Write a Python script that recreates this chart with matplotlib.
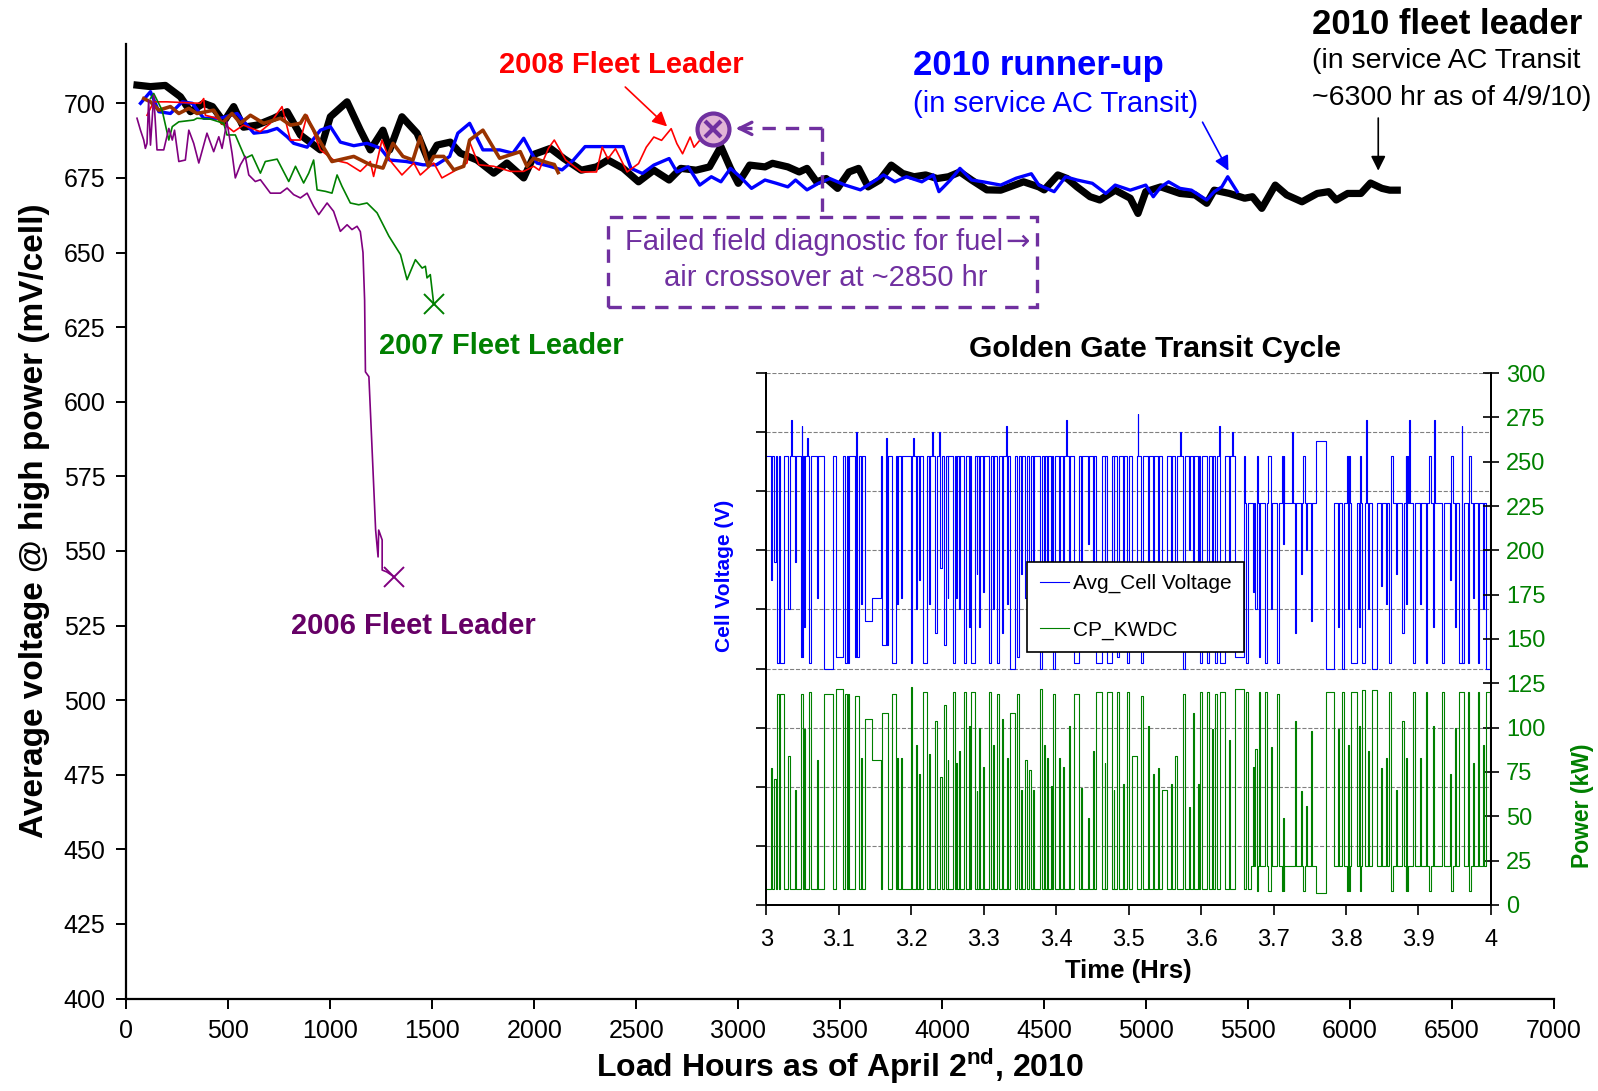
import numpy as np
import matplotlib
matplotlib.use('Agg')
import matplotlib.pyplot as plt
from matplotlib.patches import Rectangle

plt.rcParams['font.family'] = ['Liberation Sans', 'DejaVu Sans']
plt.rcParams['mathtext.fontset'] = 'custom'
plt.rcParams['mathtext.rm'] = 'Liberation Sans'
plt.rcParams['mathtext.bf'] = 'Liberation Sans:bold'

# ---- main chart: average cell voltage vs load hours ----
lead2010_hours = [52, 118, 191, 265, 314, 379, 422, 477, 526, 574, 640, 722, 788, 853, 951, 1000, 1082, 1147,
                  1196, 1258, 1291, 1351, 1425, 1480, 1523, 1588, 1637, 1719, 1801, 1866, 1948, 2002, 2079, 2145,
                  2230, 2305, 2361, 2436, 2511, 2586, 2661, 2718, 2793, 2859, 2915, 2962, 3000, 3056, 3131, 3168,
                  3243, 3299, 3337, 3384, 3431, 3487, 3543, 3590, 3637, 3694, 3750, 3806, 3862, 3919, 3975, 4031,
                  4087, 4144, 4219, 4287, 4331, 4399, 4474, 4500, 4567, 4613, 4661, 4725, 4773, 4848, 4922, 4960,
                  4998, 5072, 5166, 5240, 5297, 5334, 5408, 5483, 5521, 5567, 5633, 5689, 5764, 5839, 5895, 5932,
                  5988, 6053, 6100, 6156, 6194, 6231]
lead2010_mv = [706.1, 705.6, 706, 702.2, 697.2, 700, 698.9, 693.8, 698.9, 692, 692.7, 695, 697.2, 689.4, 684.4,
               695.5, 700.5, 691, 684.4, 691, 684.4, 695.5, 690, 681, 686, 687, 683.3, 681, 676.6, 680, 675, 683,
               684.9, 681.5, 677.6, 678.7, 681, 678.2, 673.7, 677.6, 674.3, 678.2, 677.6, 678.7, 685.5, 678.2,
               673.2, 679.3, 678.7, 679.9, 678.7, 677, 678.2, 673.7, 674.8, 671.5, 677, 678.2, 672, 674.3, 679.3,
               676.5, 675.4, 676, 674.8, 675.4, 677, 674.3, 671, 670.9, 672, 673.7, 672, 671, 676, 674.8, 672,
               668.7, 667.6, 670.9, 668.2, 663.1, 670.4, 672, 669.8, 669.3, 666.5, 670.9, 669.8, 668.2, 668.7,
               664.8, 672.6, 669.3, 667, 669.8, 670.4, 667.6, 669.8, 669.8, 673.3, 671.5, 670.9, 670.9]

runner2010_hours = [69, 118, 159, 216, 274, 323, 379, 461, 543, 625, 690, 739, 788, 820, 886, 951, 1000, 1049,
                    1115, 1180, 1245, 1291, 1372, 1454, 1520, 1585, 1625, 1683, 1748, 1830, 1895, 1948, 2013, 2070,
                    2136, 2192, 2249, 2436, 2474, 2530, 2586, 2661, 2699, 2755, 2811, 2868, 2915, 2962, 3009, 3065,
                    3131, 3187, 3243, 3281, 3337, 3393, 3449, 3524, 3599, 3675, 3712, 3768, 3825, 3900, 3956, 3984,
                    4040, 4087, 4144, 4200, 4287, 4362, 4437, 4474, 4549, 4605, 4661, 4736, 4802, 4848, 4922, 4998,
                    5035, 5072, 5110, 5166, 5222, 5297, 5334, 5371, 5400, 5446]
runner2010_mv = [700, 703.9, 697.2, 696.6, 700.5, 700, 695, 695, 696.6, 690, 690.5, 691.6, 688.8, 686.6, 685.3,
                 691, 692.2, 687, 685.8, 686.6, 685, 681, 680.5, 679.4, 679.4, 682.2, 690, 693.3, 684.4, 684.4,
                 683.3, 688.3, 680, 679, 677.7, 681, 685.5, 685.5, 678.2, 676.5, 679.3, 681.5, 677, 678.7, 672.6,
                 675.4, 673.7, 678.2, 675.4, 671.5, 674.3, 673.2, 672, 674.3, 671, 673.2, 674.8, 672.6, 671, 674.3,
                 676, 673.7, 675.4, 673.7, 676, 670.4, 674.3, 678.2, 674.3, 673.7, 672.6, 674.9, 676.4, 672.6,
                 670.4, 675.4, 674.3, 673.2, 669.8, 672.6, 670.9, 672.6, 668.7, 672, 673.7, 671.5, 670.9, 667.6,
                 670.4, 672, 675.4, 670.4]

lead2008_hours = [101, 134, 199, 363, 379, 387, 444, 526, 574, 656, 706, 763, 804, 853, 886, 951, 1016, 1082,
                  1147, 1196, 1212, 1253, 1291, 1351, 1409, 1441, 1507, 1547, 1605, 1670, 1683, 1728, 1801, 1883,
                  1948, 1997, 2024, 2070, 2098, 2154, 2230, 2305, 2333, 2361, 2398, 2455, 2511, 2549, 2586, 2624,
                  2671, 2699, 2727, 2764, 2783, 2811]
lead2008_mv = [696, 700.5, 700.5, 700, 701.6, 696, 695, 690.5, 692.7, 690.5, 693.3, 698.9, 687.7, 687.7, 696,
               684.4, 681, 680, 677.2, 680.5, 675.5, 687.7, 681, 676, 680, 676, 680, 675, 677.2, 680, 687, 679.4,
               678.9, 677.2, 677.2, 678.9, 677.6, 685, 687.7, 681, 677, 677, 685.3, 681.4, 684.8, 677, 679.8,
               685.3, 688.7, 687.6, 691.5, 686.5, 683.1, 688.7, 685.3, 687.6]

brown_hours = [85, 118, 159, 216, 257, 306, 346, 428, 469, 518, 559, 608, 673, 755, 804, 853, 877, 951, 1008,
               1115, 1196, 1258, 1307, 1356, 1405, 1441, 1480, 1507, 1556, 1605, 1654, 1683, 1748, 1830, 1931,
               1964, 1997, 2070, 2098, 2117]
brown_mv = [701.6, 700.5, 697.7, 698.9, 696.6, 698.3, 696.6, 697.7, 693.3, 696.6, 693.3, 696, 693.3, 695, 692.7,
            693.3, 696, 687, 680.5, 682.2, 679.4, 678.3, 686.6, 682.2, 681, 688.8, 678.9, 682.2, 682.2, 677.7,
            678.9, 687.7, 691, 681.6, 683.8, 678.9, 681.6, 680, 679.5, 676.8]

lead2007_hours = [118, 134, 175, 208, 225, 257, 330, 346, 412, 477, 493, 534, 583, 616, 657, 681, 739, 796, 829,
                  869, 894, 918, 935, 976, 1008, 1033, 1057, 1098, 1139, 1180, 1229, 1287, 1344, 1376, 1417, 1450,
                  1466, 1474, 1490, 1507]
lead2007_mv = [701.6, 703.3, 697.7, 687.7, 692.2, 693.8, 694.4, 695, 694.7, 693.3, 689.4, 689.4, 681.6, 682.7,
               676.6, 680.5, 681.3, 673.8, 678.9, 673.3, 676.6, 681, 671, 670.5, 669.9, 676, 672.2, 666.6, 666,
               666.6, 663.3, 655.5, 649.3, 640.9, 647.6, 644.8, 645.4, 641.5, 642.6, 632.6]

lead2006_hours = [52, 69, 85, 93, 101, 109, 118, 134, 150, 183, 208, 225, 236, 257, 289, 306, 330, 355, 395, 428,
                  453, 469, 493, 518, 534, 559, 583, 600, 632, 657, 706, 755, 788, 820, 853, 886, 918, 943, 984,
                  1016, 1049, 1082, 1106, 1131, 1147, 1160, 1168, 1172, 1189, 1222, 1234, 1237, 1254, 1254, 1276,
                  1311]
lead2006_mv = [695, 691, 687.7, 684.9, 686.6, 701, 686, 702.7, 684.4, 684.4, 691.6, 687.7, 691, 680.5, 681, 691,
               686.6, 680, 690, 683.8, 688.8, 684.9, 693.8, 683.3, 675, 679.4, 682.2, 676, 673.8, 674.4, 669.9,
               669.9, 671.6, 669.4, 668.3, 669.9, 665.5, 662.7, 666.6, 663.8, 657.1, 659.3, 657.7, 658.8, 657,
               650, 634, 610, 608.4, 557, 548, 557, 553.7, 543.6, 543, 541.4]

failure_hours = 2877
failure_mv = 691.3

# ---- inset: Golden Gate transit cycle, 3 to 4 hours ----
pulse_start = [3.0065, 3.0110, 3.0152, 3.0195, 3.0304, 3.0396, 3.0475, 3.0590, 3.0696, 3.0802, 3.0968, 3.1088,
               3.1226, 3.1364, 3.1465, 3.1604, 3.1733, 3.1853, 3.1995, 3.2157, 3.2332, 3.2401, 3.2456, 3.2571,
               3.2654, 3.2733, 3.2825, 3.2931, 3.3069, 3.3180, 3.3253, 3.3364, 3.3461, 3.3576, 3.3631, 3.3783,
               3.3876, 3.3963, 3.4037, 3.4253, 3.4553, 3.4700, 3.4839, 3.4977, 3.5046, 3.5175, 3.5267, 3.5406,
               3.5461, 3.5645, 3.5747, 3.5885, 3.5991, 3.6083, 3.6198, 3.6267, 3.6465, 3.6622, 3.6751, 3.6797,
               3.6889, 3.7046, 3.7290, 3.7512, 3.7719, 3.7949, 3.8065, 3.8226, 3.8364, 3.8479, 3.8594, 3.8779,
               3.8926, 3.9101, 3.9323, 3.9562, 3.9677, 3.9816, 3.9931]
pulse_end = [3.0083, 3.0130, 3.0175, 3.0249, 3.0323, 3.0410, 3.0502, 3.0613, 3.0714, 3.0922, 3.1060, 3.1115,
             3.1281, 3.1465, 3.1580, 3.1687, 3.1788, 3.1871, 3.2018, 3.2212, 3.2350, 3.2419, 3.2479, 3.2599,
             3.2673, 3.2756, 3.2880, 3.2949, 3.3097, 3.3207, 3.3272, 3.3429, 3.3484, 3.3594, 3.3650, 3.3806,
             3.3894, 3.3991, 3.4055, 3.4309, 3.4636, 3.4774, 3.4866, 3.5005, 3.5110, 3.5194, 3.5286, 3.5424,
             3.5525, 3.5664, 3.5774, 3.5903, 3.6018, 3.6106, 3.6226, 3.6336, 3.6590, 3.6645, 3.6770, 3.6820,
             3.6912, 3.7074, 3.7309, 3.7530, 3.7830, 3.7972, 3.8152, 3.8258, 3.8429, 3.8498, 3.8618, 3.8797,
             3.8954, 3.9120, 3.9350, 3.9627, 3.9700, 3.9834, 3.9986]
pulse_kw = [77, 71, 119, 119, 84, 65, 119, 120, 82, 119, 122, 119, 118, 105, 82, 108, 119, 83, 123, 120, 104, 72,
            113, 120, 87, 120, 120, 100, 120, 119, 105, 108, 119, 82, 76, 122, 83, 119, 83, 119, 120, 120, 120,
            120, 84, 118, 101, 77, 65, 84, 119, 108, 120, 120, 119, 120, 122, 120, 88, 120, 120, 119, 104, 98,
            120, 120, 120, 121, 121, 77, 120, 104, 120, 120, 120, 120, 120, 120, 120]
pulse_v = [0.55, 0.58, 0.41, 0.41, 0.50, 0.58, 0.42, 0.41, 0.52, 0.40, 0.42, 0.41, 0.42, 0.48, 0.52, 0.44, 0.41,
           0.52, 0.41, 0.41, 0.46, 0.57, 0.44, 0.41, 0.50, 0.41, 0.41, 0.47, 0.41, 0.41, 0.46, 0.40, 0.42, 0.52,
           0.55, 0.40, 0.51, 0.40, 0.52, 0.41, 0.41, 0.41, 0.42, 0.41, 0.50, 0.41, 0.47, 0.55, 0.58, 0.52, 0.40,
           0.45, 0.41, 0.41, 0.41, 0.41, 0.42, 0.41, 0.50, 0.42, 0.41, 0.41, 0.46, 0.48, 0.40, 0.40, 0.41, 0.41,
           0.40, 0.54, 0.41, 0.46, 0.41, 0.41, 0.41, 0.41, 0.41, 0.41, 0.40]

spike_t = [3.0520, 3.1134, 3.1304, 3.1811, 3.2065, 3.2110, 3.2249, 3.2502, 3.2617, 3.2793, 3.2903, 3.2986,
           3.3124, 3.3318, 3.3516, 3.3677, 3.3839, 3.3930, 3.4092, 3.4184, 3.4346, 3.4438, 3.4507, 3.4668,
           3.4793, 3.4922, 3.5332, 3.5585, 3.5839, 3.5954, 3.6152, 3.6382, 3.6714, 3.6968, 3.7129, 3.7382,
           3.7452, 3.7889, 3.8028, 3.8180, 3.8304, 3.8548, 3.8696, 3.8834, 3.9018, 3.9203, 3.9433, 3.9502,
           3.9756, 3.9894]
spike_kw = [99, 119, 83, 83, 90, 74, 85, 82, 80, 101, 64, 78, 90, 83, 65, 65, 90, 67, 78, 101, 66, 49, 87, 80,
            65, 68, 74, 68, 55, 68, 99, 93, 78, 89, 49, 64, 56, 99, 90, 101, 87, 83, 65, 83, 83, 101, 74, 100, 80,
            90]
spike_v = [0.47, 0.41, 0.51, 0.51, 0.50, 0.55, 0.51, 0.52, 0.52, 0.47, 0.56, 0.53, 0.50, 0.51, 0.56, 0.56,
           0.50, 0.56, 0.53, 0.47, 0.56, 0.61, 0.50, 0.52, 0.56, 0.55, 0.55, 0.55, 0.60, 0.55, 0.47, 0.49, 0.53,
           0.50, 0.61, 0.56, 0.60, 0.47, 0.50, 0.47, 0.50, 0.51, 0.56, 0.51, 0.51, 0.47, 0.55, 0.47, 0.52, 0.50]

# short idle stretches after 3.67 h (power back to ~8 kW, voltage back up)
idle_start = [3.6760, 3.6930, 3.7120, 3.7400, 3.8020, 3.8180, 3.8620, 3.8830, 3.9140, 3.9440, 3.9700]
idle_end = [3.6790, 3.6960, 3.7150, 3.7430, 3.8050, 3.8210, 3.8650, 3.8860, 3.9170, 3.9470, 3.9730]
idle_kw = [8, 8, 8, 8, 8, 8, 8, 8, 8, 8, 8]
idle_v = [0.76, 0.76, 0.76, 0.76, 0.76, 0.76, 0.76, 0.76, 0.76, 0.76, 0.76]

voltage_peak_t = [3.0346, 3.0488, 3.0567, 3.1235, 3.1650, 3.2028, 3.2286, 3.2387, 3.3309, 3.4138, 3.5124,
                  3.5710, 3.6244, 3.6429, 3.7253, 3.8272, 3.8871, 3.9212, 3.9594]
voltage_peak_v = [0.82, 0.81, 0.79, 0.80, 0.79, 0.79, 0.80, 0.80, 0.81, 0.82, 0.83, 0.80, 0.81, 0.80, 0.80,
                  0.82, 0.82, 0.82, 0.81]

power_base_t = [3.0, 3.669, 3.759, 3.772]
power_base_kw = [9, 22, 7, 22]
voltage_base_t = [3.0, 3.660, 3.759, 3.772]
voltage_base_v = [0.76, 0.68, 0.785, 0.68]

spike_width = 0.0012


def step_series(base_t, base_y, starts, ends, levels):
    # later entries in starts/ends/levels win where they overlap
    times = sorted(set([3.0, 4.0] + list(base_t) + list(starts) + list(ends)))
    values = []
    for t in times:
        y = base_y[np.searchsorted(base_t, t, side='right') - 1]
        for a, b, v in zip(starts, ends, levels):
            if a <= t < b:
                y = v
        values.append(y)
    return times, values


spike_end = [t + spike_width for t in spike_t]
peak_end = [t + spike_width for t in voltage_peak_t]
power_t, power_kw = step_series(power_base_t, power_base_kw, idle_start + pulse_start + spike_t,
                                idle_end + pulse_end + spike_end, idle_kw + pulse_kw + spike_kw)
volt_t, volt_v = step_series(voltage_base_t, voltage_base_v,
                             idle_start + pulse_start + spike_t + voltage_peak_t,
                             idle_end + pulse_end + spike_end + peak_end,
                             idle_v + pulse_v + spike_v + voltage_peak_v)

fig = plt.figure(figsize=(15.98, 10.91), dpi=100)
ax = fig.add_axes([0.0791, 0.0847, 0.8934, 0.8753])

ax.plot(lead2010_hours, lead2010_mv, color='black', lw=5.2, solid_joinstyle='round', zorder=2)
ax.plot(runner2010_hours, runner2010_mv, color='#0000ff', lw=2.4, zorder=3)
ax.plot(lead2008_hours, lead2008_mv, color='#ff0000', lw=1.2, zorder=4)
ax.plot(brown_hours, brown_mv, color='#993300', lw=2.6, zorder=5)
ax.plot(lead2007_hours, lead2007_mv, color='#008000', lw=1.2, zorder=6)
ax.plot(lead2006_hours, lead2006_mv, color='#800080', lw=1.2, zorder=6)
ax.plot(lead2007_hours[-1], lead2007_mv[-1], marker='x', ms=14, mew=1.4, color='#008000', zorder=7)
ax.plot(lead2006_hours[-1], lead2006_mv[-1], marker='x', ms=14, mew=1.4, color='#800080', zorder=7)

ax.set_xlim(0, 7000)
ax.set_ylim(400, 720)
ax.set_xticks(range(0, 7001, 500))
ax.set_yticks(range(400, 701, 25))
for side in ['top', 'right']:
    ax.spines[side].set_visible(False)
for side in ['left', 'bottom']:
    ax.spines[side].set_linewidth(1.6)
ax.tick_params(direction='out', length=7, width=1.4, labelsize=18)
ax.tick_params(axis='y', pad=8)
ax.tick_params(axis='x', pad=8)
ax.set_xlabel(r'Load Hours as of April 2$^{\mathbf{nd}}$, 2010', fontsize=23, fontweight='bold', labelpad=2)
ax.set_ylabel('Average voltage @ high power (mV/cell)', fontsize=24, fontweight='bold', labelpad=10)

# labels and arrows
ax.text(2425, 713, '2008 Fleet Leader', color='#ff0000', fontsize=21, fontweight='bold', ha='center', va='center')
ax.annotate('', xy=(2661, 691.6), xytext=(2436, 706.1),
            arrowprops=dict(arrowstyle='-|>', color='#ff0000', lw=1.2, mutation_scale=22))
ax.text(3855, 712.6, '2010 runner-up', color='#0000ff', fontsize=25, fontweight='bold', ha='left', va='center')
ax.text(3855, 699.7, '(in service AC Transit)', color='#0000ff', fontsize=21, ha='left', va='center')
ax.annotate('', xy=(5410, 676.6), xytext=(5270, 694.5),
            arrowprops=dict(arrowstyle='-|>', color='#0000ff', lw=1.2, mutation_scale=22))
ax.text(5815, 726.5, '2010 fleet leader', color='black', fontsize=25, fontweight='bold', ha='left', va='center',
        clip_on=False)
ax.text(5815, 714.3, '(in service AC Transit', color='black', fontsize=20.5, ha='left', va='center',
        clip_on=False)
ax.text(5815, 701.7, '~6300 hr as of 4/9/10)', color='black', fontsize=20.5, ha='left', va='center',
        clip_on=False)
ax.annotate('', xy=(6138, 676.5), xytext=(6138, 696),
            arrowprops=dict(arrowstyle='-|>', color='black', lw=1.2, mutation_scale=22))
ax.text(1240, 618.7, '2007 Fleet Leader', color='#008000', fontsize=21, fontweight='bold', ha='left', va='center')
ax.text(805, 524.8, '2006 Fleet Leader', color='#660066', fontsize=21, fontweight='bold', ha='left', va='center')

# failure marker and dashed call-out box
purple = '#7030a0'
ax.plot(failure_hours, failure_mv, marker='o', ms=23, mfc='#e2b4d6', mec=purple, mew=3, zorder=8)
ax.plot(failure_hours, failure_mv, marker='x', ms=12, mew=3, color=purple, zorder=9)
ax.plot([3412, 2995], [691.6, 691.6], color=purple, lw=2.4, ls=(0, (4, 3)), zorder=8)
ax.plot([3412, 3412], [691.6, 662], color=purple, lw=2.4, ls=(0, (4, 3)), zorder=8)
ax.annotate('', xy=(2975, 691.6), xytext=(3030, 691.6),
            arrowprops=dict(arrowstyle='->', color=purple, lw=2.4, mutation_scale=22), zorder=8)
ax.add_patch(Rectangle((2360, 631.8), 2103, 30.2, fill=False, edgecolor=purple, lw=2.4, ls=(0, (4, 3)),
                       zorder=8))
ax.text(4300, 653.6, 'Failed field diagnostic for fuel', color=purple, fontsize=21, ha='right', va='center')
ax.text(4310, 653.6, '\u2192', color=purple, fontsize=21, family='DejaVu Sans', ha='left', va='center')
ax.text(3430, 641.6, 'air crossover at ~2850 hr', color=purple, fontsize=21, ha='center', va='center')

# ---- inset ----
ax_in = fig.add_axes([0.4795, 0.1705, 0.4535, 0.4876])
ax_pw = ax_in.twinx()
blue_line, = ax_in.plot(volt_t, volt_v, color='#0000ff', lw=0.8, drawstyle='steps-post')
green_line, = ax_pw.plot(power_t, power_kw, color='#008000', lw=0.8, drawstyle='steps-post')

ax_in.set_xlim(3, 4)
ax_in.set_ylim(0, 0.9)
ax_pw.set_ylim(0, 300)
ax_in.set_xticks(np.arange(3, 4.01, 0.1))
ax_in.set_xticklabels(['3', '3.1', '3.2', '3.3', '3.4', '3.5', '3.6', '3.7', '3.8', '3.9', '4'])
ax_in.set_yticks(np.arange(0, 0.91, 0.1))
ax_in.set_yticklabels([])
ax_pw.set_yticks(range(0, 301, 25))
ax_in.grid(axis='y', color='#808080', ls='--', lw=0.8)
ax_in.set_axisbelow(True)
for a in (ax_in, ax_pw):
    a.spines['top'].set_visible(False)
    for side in ['left', 'right', 'bottom']:
        a.spines[side].set_linewidth(1.4)
ax_in.tick_params(axis='x', direction='out', length=7, width=1.2, labelsize=17, pad=10)
ax_in.tick_params(axis='y', direction='out', length=7, width=1.2)
ax_pw.tick_params(axis='y', direction='inout', length=12, width=1.2, labelsize=17, labelcolor='#008000', pad=5)
ax_in.set_xlabel('Time (Hrs)', fontsize=18.5, fontweight='bold', labelpad=6)
ax_in.set_ylabel('Cell Voltage (V)', fontsize=15, fontweight='bold', color='#0000ff')
ax_in.yaxis.set_label_coords(-0.045, 0.619)
ax_pw.set_ylabel('Power (kW)', fontsize=16.5, fontweight='bold', color='#008000')
ax_pw.yaxis.set_label_coords(1.11, 0.186)
ax_in.text(0.536, 1.045, 'Golden Gate Transit Cycle', transform=ax_in.transAxes, fontsize=21.5,
           fontweight='bold', ha='center', va='center')
leg = ax_pw.legend([blue_line, green_line], ['Avg_Cell Voltage', 'CP_KWDC'], loc='upper left',
                   bbox_to_anchor=(0.36, 0.6456), borderaxespad=0, fontsize=15, frameon=True, fancybox=False,
                   edgecolor='black', framealpha=1, labelspacing=1.3, handlelength=1.4, handletextpad=0.2,
                   borderpad=0.6)
leg.get_frame().set_linewidth(1.2)

fig.savefig('out.png', dpi=100)
